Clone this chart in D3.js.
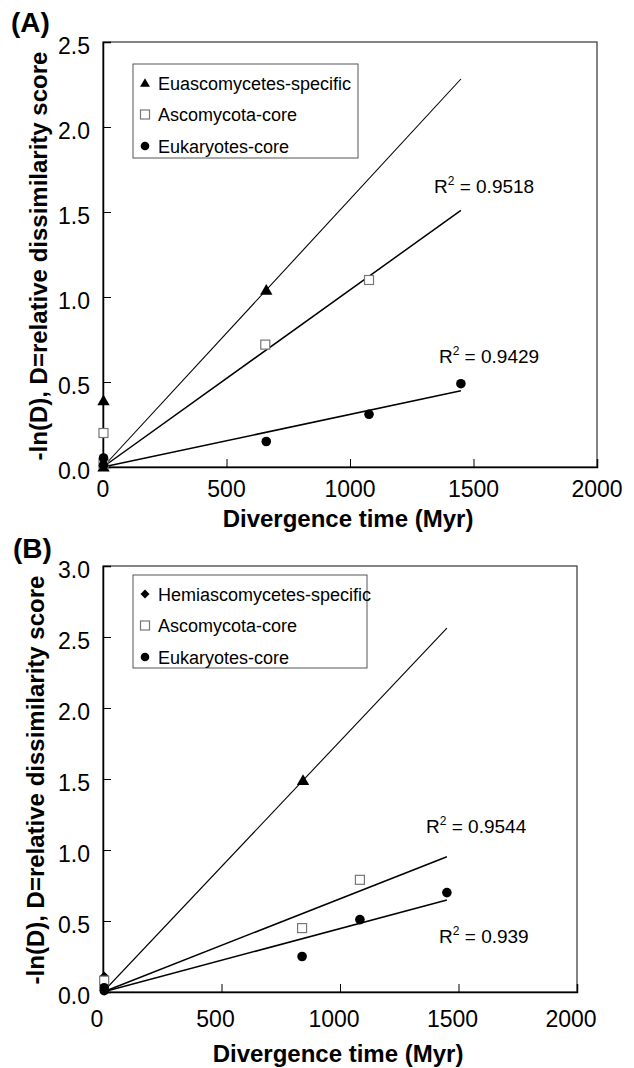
<!DOCTYPE html>
<html>
<head>
<meta charset="utf-8">
<script src="https://cdn.jsdelivr.net/npm/d3@7"></script>
<style>
  body { margin: 0; background: #fff; }
  text { font-family: "Liberation Sans", Arial, sans-serif; fill: #000; }
  .tick-label { font-size: 23px; }
  .axis-title { font-size: 24px; font-weight: bold; }
  .panel-label { font-size: 28px; font-weight: bold; }
  .legend-text { font-size: 18px; }
  .r2 { font-size: 19px; }
</style>
</head>
<body>
<div id="chart"></div>
<script>
// DATA
const xTicks = [0, 500, 1000, 1500, 2000]
const yTicksA = [0, 0.5, 1.0, 1.5, 2.0, 2.5]
const yTicksB = [0, 0.5, 1.0, 1.5, 2.0, 2.5, 3.0]

// panel A
const euascoX = [2, 2, 661]
const euascoY = [0.0, 0.39, 1.04]
const ascoAX = [2, 2, 657, 1077]
const ascoAY = [0.02, 0.20, 0.72, 1.10]
const eukAX = [2, 2, 661, 1077, 1449]
const eukAY = [0.01, 0.053, 0.15, 0.31, 0.49]
const legendA = ['Euascomycetes-specific', 'Ascomycota-core', 'Eukaryotes-core']
const r2A = ['0.9518', '0.9429']

// panel B
const hemiX = [5, 844]
const hemiY = [0.11, 1.49]
const hemiShape = ['diamond', 'triangle']
const ascoBX = [5, 840, 1084]
const ascoBY = [0.08, 0.45, 0.79]
const eukBX = [5, 5, 840, 1084, 1451]
const eukBY = [0.01, 0.03, 0.25, 0.51, 0.70]
const legendB = ['Hemiascomycetes-specific', 'Ascomycota-core', 'Eukaryotes-core']
const r2B = ['0.9544', '0.939']

const W = 634, H = 1068

const svg = d3.select('#chart').append('svg')
  .attr('width', W).attr('height', H)

// marker drawing
function drawMarker(g, shape, x, y, big) {
  if (shape === 'triangle') {
    g.append('path').attr('d', d3.symbol(d3.symbolTriangle, big ? 66 : 42)())
      .attr('transform', `translate(${x},${y + 1})`).attr('fill', '#000')
  } else if (shape === 'diamond') {
    const r = big ? 5 : 4.5
    g.append('path').attr('d', `M0,${-r}L${r},0L0,${r}L${-r},0Z`)
      .attr('transform', `translate(${x},${y})`).attr('fill', '#000')
  } else if (shape === 'square') {
    g.append('rect').attr('x', x - 4.5).attr('y', y - 4.5).attr('width', 9).attr('height', 9)
      .attr('fill', '#fff').attr('stroke', '#777').attr('stroke-width', 1.2)
  } else {
    g.append('circle').attr('cx', x).attr('cy', y).attr('r', big ? 4.8 : 4.3).attr('fill', '#000')
  }
}

// slope of a least-squares line through the origin
function slopeThroughOrigin(xs, ys) {
  return d3.sum(xs, (x, i) => x * ys[i]) / d3.sum(xs, x => x * x)
}

function drawPanel(p) {
  const g = svg.append('g')
  const x = d3.scaleLinear().domain([0, 2000]).range([p.left, p.right])
  const y = d3.scaleLinear().domain([0, p.yMax]).range([p.bottom, p.top])

  // frame
  g.append('rect').attr('x', p.left).attr('y', p.top)
    .attr('width', p.right - p.left).attr('height', p.bottom - p.top)
    .attr('fill', 'none').attr('stroke', '#333').attr('stroke-width', 1.2)

  // axes, ticks inside
  const ax = g.append('g').attr('transform', `translate(0,${p.bottom})`)
    .call(d3.axisTop(x).tickValues(xTicks).tickSize(8).tickFormat(''))
  const ay = g.append('g').attr('transform', `translate(${p.left},0)`)
    .call(d3.axisRight(y).tickValues(p.yTicks).tickSize(8).tickFormat(''))
  ;[ax, ay].forEach(a => {
    a.select('.domain').attr('stroke', '#000').attr('stroke-width', 1.5)
    a.selectAll('.tick line').attr('stroke', '#000').attr('stroke-width', 1)
  })

  // tick labels
  g.selectAll('.xl').data(xTicks).join('text')
    .attr('class', 'tick-label').attr('text-anchor', 'middle')
    .attr('x', d => x(d) + p.xLabelShift).attr('y', p.bottom + p.xLabelDy)
    .text(d => d)
  g.selectAll('.yl').data(p.yTicks).join('text')
    .attr('class', 'tick-label').attr('text-anchor', 'end')
    .attr('x', p.left - 13).attr('y', d => y(d) + 12)
    .text(d => d.toFixed(1))

  // titles
  g.append('text').attr('class', 'axis-title').attr('text-anchor', 'middle')
    .attr('x', (p.left + p.right) / 2 - 2).attr('y', p.bottom + p.xTitleDy)
    .text('Divergence time (Myr)')
  g.append('text').attr('class', 'axis-title').attr('text-anchor', 'middle')
    .attr('transform', `translate(${p.yTitleX},${p.yTitleY}) rotate(-90)`)
    .text('-ln(D), D=relative dissimilarity score')
  g.append('text').attr('class', 'panel-label')
    .attr('x', p.labelX).attr('y', p.labelY).text(p.label)

  // regression lines through origin
  const xEnd = d3.max(p.series, s => d3.max(s.xs))
  p.series.forEach(s => {
    const k = slopeThroughOrigin(s.xs, s.ys)
    g.append('line')
      .attr('x1', x(0)).attr('y1', y(0))
      .attr('x2', x(xEnd)).attr('y2', y(k * xEnd))
      .attr('stroke', '#000').attr('stroke-width', s.lw)
  })

  // points
  p.series.forEach(s => {
    s.xs.forEach((d, i) => drawMarker(g, s.shapes ? s.shapes[i] : s.shape, x(d), y(s.ys[i]), true))
  })

  // legend
  const lg = g.append('g')
  lg.append('rect').attr('x', p.legend.x).attr('y', p.legend.y)
    .attr('width', p.legend.w).attr('height', p.legend.h)
    .attr('fill', '#fff').attr('stroke', '#555').attr('stroke-width', 1)
  p.legendNames.forEach((name, i) => {
    const cy = p.legend.y + 19 + i * 31.5
    drawMarker(lg, p.legendShapes[i], p.legend.x + 12, cy, false)
    lg.append('text').attr('class', 'legend-text')
      .attr('x', p.legend.x + 25).attr('y', cy + 6.5).text(name)
  })

  // R squared labels
  p.r2.forEach((v, i) => {
    const t = g.append('text').attr('class', 'r2')
      .attr('x', x(p.r2Pos[i][0])).attr('y', y(p.r2Pos[i][1]))
    t.append('tspan').text('R')
    t.append('tspan').attr('font-size', 12).attr('dy', -8).text('2')
    t.append('tspan').attr('dy', 8).text(' = ' + v)
  })
}

drawPanel({
  label: '(A)', labelX: 11, labelY: 32,
  left: 103, right: 597, top: 42, bottom: 467,
  yMax: 2.5, yTicks: yTicksA,
  xLabelShift: 0, xLabelDy: 30, xTitleDy: 60,
  yTitleX: 47, yTitleY: 256,
  series: [
    { xs: euascoX, ys: euascoY, shape: 'triangle', lw: 1.1 },
    { xs: ascoAX, ys: ascoAY, shape: 'square', lw: 1.5 },
    { xs: eukAX, ys: eukAY, shape: 'circle', lw: 1.5 }
  ],
  legend: { x: 133, y: 64, w: 225, h: 94 },
  legendNames: legendA, legendShapes: ['triangle', 'square', 'circle'],
  r2: r2A, r2Pos: [[1340, 1.61], [1360, 0.61]]
})

drawPanel({
  label: '(B)', labelX: 13, labelY: 558,
  left: 103, right: 577, top: 566, bottom: 992,
  yMax: 3.0, yTicks: yTicksB,
  xLabelShift: -6, xLabelDy: 35, xTitleDy: 70,
  yTitleX: 44, yTitleY: 780,
  series: [
    { xs: hemiX, ys: hemiY, shapes: hemiShape, lw: 1.1 },
    { xs: ascoBX, ys: ascoBY, shape: 'square', lw: 1.5 },
    { xs: eukBX, ys: eukBY, shape: 'circle', lw: 1.5 }
  ],
  legend: { x: 133, y: 575, w: 234, h: 93 },
  legendNames: legendB, legendShapes: ['diamond', 'square', 'circle'],
  r2: r2B, r2Pos: [[1363, 1.12], [1418, 0.345]]
})
</script>
</body>
</html>
